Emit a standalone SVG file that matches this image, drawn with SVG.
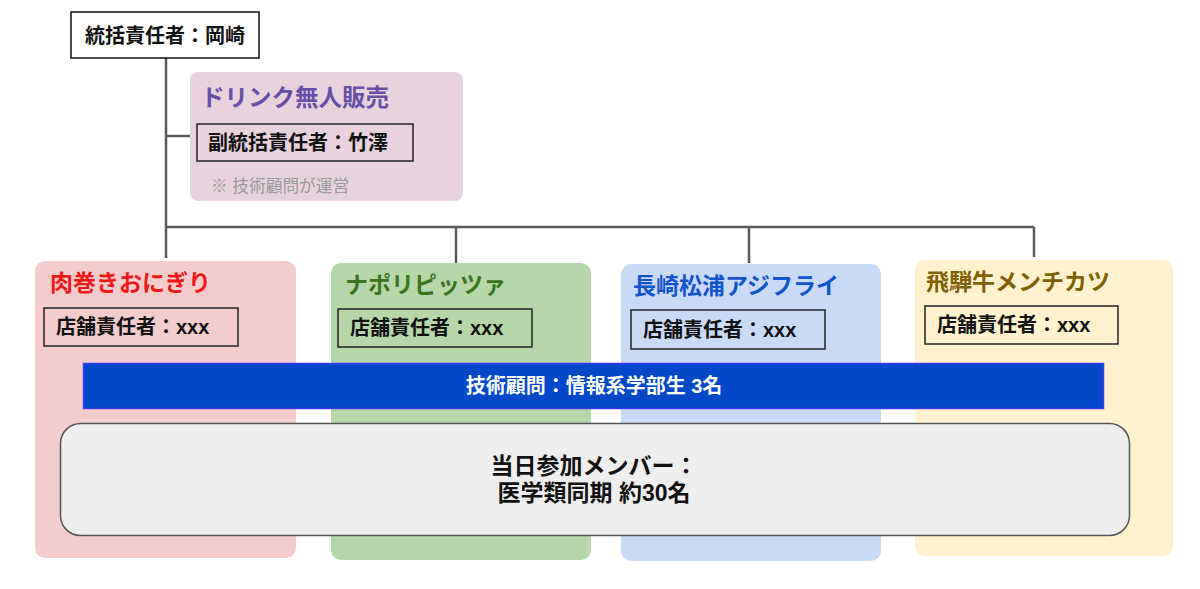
<svg xmlns="http://www.w3.org/2000/svg" width="1200" height="589" viewBox="0 0 1200 589">
<style>
text{font-family:"Liberation Sans","Noto Sans CJK JP",sans-serif;dominant-baseline:central}
.lbl{font-size:20px;font-weight:bold;fill:#111}
.box{fill:none;stroke:#222;stroke-width:1.5}
.title{font-size:23px;font-weight:bold}
.conn{fill:none;stroke:#595959;stroke-width:2.5}
</style>
<rect width="1200" height="589" fill="#fff"/>
<g id="connectors">
<path class="conn" d="M166 58V258M166 136H190M166 227H1034M456 227V263M749 227V263M1034 227V257"/>
</g>
<g id="top">
<rect x="71" y="12" width="188" height="46" fill="#fff" stroke="#111" stroke-width="1.5"/>
<text x="165" y="35.5" text-anchor="middle" class="lbl">統括責任者：岡崎</text>
</g>
<g id="drink">
<rect x="190" y="72" width="273" height="129" rx="8" fill="#e8d2de"/>
<text x="201" y="98" class="title" style="font-size:23.5px" fill="#674ea7">ドリンク無人販売</text>
<rect x="197" y="124" width="216" height="37" class="box"/>
<text x="208" y="142.5" class="lbl">副統括責任者：竹澤</text>
<text x="211" y="186" font-size="16.7" fill="#999">※ 技術顧問が運営</text>
</g>
<g id="shop1">
<rect x="35" y="261" width="261" height="297" rx="10" fill="#f4cccc"/>
<text x="50" y="283" class="title" fill="#f01818">肉巻きおにぎり</text>
<rect x="44" y="308" width="194" height="38" class="box"/>
<text x="56" y="327" class="lbl">店舗責任者：xxx</text>
</g>
<g id="shop2">
<rect x="331" y="263" width="260" height="297" rx="10" fill="#b6d7a8"/>
<text x="345" y="285" class="title" fill="#38761d">ナポリピッツァ</text>
<rect x="338" y="309" width="194" height="38" class="box"/>
<text x="350" y="328" class="lbl">店舗責任者：xxx</text>
</g>
<g id="shop3">
<rect x="621" y="264" width="260" height="297" rx="10" fill="#c9daf8"/>
<text x="633" y="286" class="title" fill="#1155cc">長崎松浦アジフライ</text>
<rect x="631" y="310" width="194" height="39" class="box"/>
<text x="643" y="329.5" class="lbl">店舗責任者：xxx</text>
</g>
<g id="shop4">
<rect x="915" y="260" width="258" height="296" rx="10" fill="#fff2cc"/>
<text x="926" y="282" class="title" fill="#7f6000">飛騨牛メンチカツ</text>
<rect x="925" y="306" width="193" height="38" class="box"/>
<text x="937" y="325" class="lbl">店舗責任者：xxx</text>
</g>
<g id="tech">
<rect x="83.5" y="363.5" width="1020" height="45" fill="#0048c8" stroke="#3a3af0" stroke-width="1.5"/>
<text x="594" y="386" text-anchor="middle" font-size="20" font-weight="bold" fill="#fff">技術顧問：情報系学部生 3名</text>
</g>
<g id="members">
<rect x="60.5" y="423.5" width="1069" height="112" rx="20" fill="#eeeeee" stroke="#555" stroke-width="1.5"/>
<text x="594" y="466" text-anchor="middle" font-size="23" font-weight="bold" fill="#111">当日参加メンバー：</text>
<text x="594" y="493" text-anchor="middle" font-size="23" font-weight="bold" fill="#111">医学類同期 約30名</text>
</g>
</svg>
